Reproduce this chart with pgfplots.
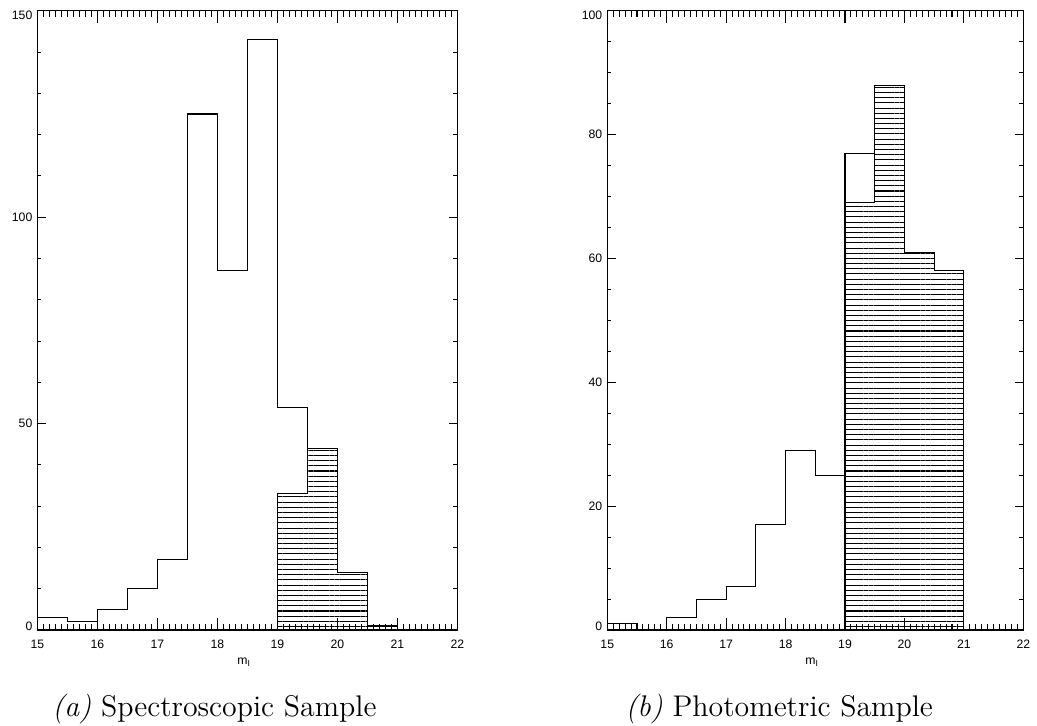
\documentclass[border=0pt]{standalone}
\usepackage{pgfplots}
\pgfplotsset{compat=1.18}
\usepackage{fontspec}
\usetikzlibrary{patterns.meta}
\newfontfamily\idl{Liberation Sans}
\newcommand\tickfont{\idl\fontsize{5.9}{6.5}\selectfont}
\pgfplotsset{
  idlbase/.style={
    scale only axis, anchor=south west,
    height=298.6pt, xmin=15, xmax=22,
    tick align=inside,
    axis line style={line width=0.6pt},
    every tick/.style={black, line width=0.5pt},
    ticklabel style={font=\tickfont},
    clip=false,
  },
  idlx/.style={idlbase, ytick=\empty,
    xtick={15,16,17,18,19,20,21,22},
    xticklabels={15,16,17,18,19,20,21,22},
    minor x tick num=9,
    major tick length=5.8pt, minor tick length=2.9pt,
    xticklabel style={anchor=north, inner sep=0pt, yshift=-4.7pt},
    xlabel={m\textsubscript{I}},
    xlabel style={font=\tickfont, at={(axis description cs:0.5,0)}, anchor=base, yshift=-16.4pt, xshift=-1.5pt, inner sep=0pt}},
  idly/.style={idlbase, xtick=\empty,
    major tick length=4pt, minor tick length=1.9pt,
    yticklabel style={anchor=east, inner sep=0pt, xshift=-2.2pt}},
  hatch/.style={const plot, draw=black, line width=0.55pt, mark=none,
    pattern={Lines[angle=0,distance=2.5pt,line width=0.5pt]}},
  outline/.style={const plot, draw=black, line width=0.55pt, mark=none},
}
\begin{document}
\begin{tikzpicture}
\useasboundingbox (0,0) rectangle (500pt,349.6pt);

% ---------- (a) Spectroscopic sample ----------
\begin{axis}[idlx, at={(18.0pt,45.8pt)}, width=202.5pt, ymin=0, ymax=150]
  \addplot[hatch] coordinates {(19,33) (19.5,44) (20,14) (20.5,14)} \closedcycle;
  \addplot[outline] coordinates {
    (15,3) (15.5,2) (16,5) (16.5,10) (17,17) (17.5,125) (18,87) (18.5,143)
    (19,54) (19.5,44) (20,14) (20.5,1) (21,0) (21.5,0)};
\end{axis}
\begin{axis}[idly, at={(18.0pt,45.8pt)}, width=202.5pt, ymin=0, ymax=150,
  ytick={0,50,100,150}, minor y tick num=4,
  yticklabels={\raisebox{0pt}[0pt][0pt]{0},\raisebox{-2.1pt}[0pt][0pt]{50},\raisebox{-2.1pt}[0pt][0pt]{100},\raisebox{-4.2pt}[0pt][0pt]{150}}]
\end{axis}

% ---------- (b) Photometric sample ----------
\begin{axis}[idlx, at={(292.8pt,45.8pt)}, width=200.6pt, ymin=0, ymax=100]
  \addplot[hatch] coordinates {(19,69) (19.5,88) (20,61) (20.5,58) (21,58)} \closedcycle;
  \addplot[outline] coordinates {
    (15,1) (15.5,0) (16,2) (16.5,5) (17,7) (17.5,17) (18,29) (18.5,25)
    (19,77) (19.5,88) (20,61) (20.5,58) (21,0) (21.5,0)};
\end{axis}
\begin{axis}[idly, at={(292.8pt,45.8pt)}, width=200.6pt, ymin=0, ymax=100,
  ytick={0,20,40,60,80,100}, minor y tick num=3,
  yticklabels={\raisebox{0pt}[0pt][0pt]{0},\raisebox{-2.1pt}[0pt][0pt]{20},\raisebox{-2.1pt}[0pt][0pt]{40},\raisebox{-2.1pt}[0pt][0pt]{60},\raisebox{-2.1pt}[0pt][0pt]{80},\raisebox{-4.2pt}[0pt][0pt]{100}}]
\end{axis}

\node[anchor=base west, inner sep=0pt, font=\fontsize{14.4}{17}\selectfont] at (25.1pt,4.3pt) {\textit{(a)} Spectroscopic Sample};
\node[anchor=base west, inner sep=0pt, font=\fontsize{14.4}{17}\selectfont] at (301.4pt,4.3pt) {\textit{(b)} Photometric Sample};
\end{tikzpicture}
\end{document}
